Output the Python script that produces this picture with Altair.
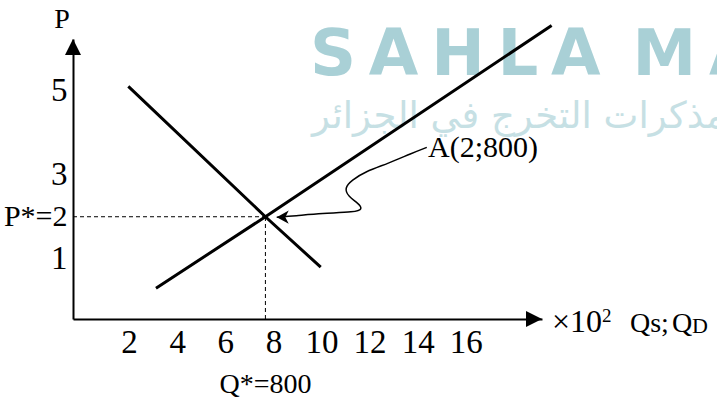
import altair as alt
import pandas as pd

# Axis ranges (quantity in hundreds of units, price in currency units)
Q_RANGE = [0, 19.5]
P_RANGE = [-0.433, 6.229]

Q_TICKS = [2, 4, 6, 8, 10, 12, 14, 16]
P_TICKS = [1, 2, 3, 5]

# Demand and supply schedules (quantity x10^2, price)
demand_q = [2.3, 8, 10.3]
demand_p = [5.1, 2, 0.8]
supply_q = [3.45, 8, 19.9]
supply_p = [0.3, 2, 6.55]

# Equilibrium point A
EQ_Q = 8
EQ_P = 2
EQ_LABEL = "A(2;800)"
Q_STAR_LABEL = "Q*=800"
P_STAR_LABEL = "P*=2"

# Hand-drawn leader from the label down to point A
leader_q = [14.71, 14.08, 13.11, 12.14, 11.59, 11.28, 11.45, 11.86, 12.05, 11.73, 10.34, 9.23, 8.47]
leader_p = [3.65, 3.51, 3.27, 3.07, 2.87, 2.68, 2.48, 2.32, 2.18, 2.11, 2.08, 2.02, 1.99]
LABEL_Q = 14.76
LABEL_P = 3.42

SERIF = "Liberation Serif"

xs = alt.Scale(domain=Q_RANGE, nice=False, zero=False)
ys = alt.Scale(domain=P_RANGE, nice=False, zero=False)

XAXIS = alt.Axis(
    values=Q_TICKS, title=None, grid=False, ticks=False, tickSize=0,
    domainColor="black", domainWidth=2, labelFont=SERIF, labelFontSize=33,
    labelColor="black", labelPadding=7, labelOffset=8, labelFlush=False,
    labelOverlap=False, labelBound=False,
)
YAXIS = alt.Axis(
    values=P_TICKS, title=None, grid=False, ticks=False, tickSize=0,
    domainColor="black", domainWidth=2, labelFont=SERIF,
    labelFontSize={"condition": {"test": f"datum.value == {EQ_P}", "value": 30}, "value": 33},
    labelColor="black", labelPadding=6, labelFlush=False, labelOverlap=False,
    labelBound=False,
    labelExpr=f"datum.value == {EQ_P} ? '{P_STAR_LABEL}' : datum.label",
)


def qx(field):
    return alt.X(field, type="quantitative", scale=xs, axis=XAXIS)


def py(field):
    return alt.Y(field, type="quantitative", scale=ys, axis=YAXIS)


curves = pd.DataFrame({
    "q": demand_q + supply_q,
    "p": demand_p + supply_p,
    "curve": ["D"] * len(demand_q) + ["S"] * len(supply_q),
})
eq = pd.DataFrame({"q": [EQ_Q], "p": [EQ_P], "q0": [Q_RANGE[0]], "p0": [P_RANGE[0]]})
leader = pd.DataFrame({"q": leader_q, "p": leader_p, "i": range(len(leader_q))})
tip = pd.DataFrame({"q": [leader_q[-1]], "p": [leader_p[-1]]})
label = pd.DataFrame({"q": [LABEL_Q], "p": [LABEL_P], "t": [EQ_LABEL]})
ends = pd.DataFrame({"q": [Q_RANGE[0], Q_RANGE[1]], "p": [P_RANGE[1], P_RANGE[0]],
                     "dir": ["up", "right"]})

# Site watermark behind the diagram
HS = "\u200a\u200a"
wm_latin = alt.Chart(pd.DataFrame({"t": [HS.join("SAHLA") + "\u2002" + HS.join("MA")]})).mark_text(
    font="DejaVu Sans", fontWeight="bold", fontSize=64, color="#a9d0d6",
    align="left", baseline="alphabetic",
).encode(x=alt.value(237), y=alt.value(36), text="t:N")
wm_arabic = alt.Chart(pd.DataFrame({"t": ["مذكرات التخرج في الجزائر"]})).mark_text(
    font="DejaVu Sans", fontSize=37, color="#c6e0e4",
    align="left", baseline="alphabetic",
).encode(x=alt.value(239), y=alt.value(89), text="t:N")

h_dash = alt.Chart(eq).mark_rule(color="black", strokeWidth=1, strokeDash=[4, 3]).encode(
    x=qx("q0"), x2="q", y=py("p"))
v_dash = alt.Chart(eq).mark_rule(color="black", strokeWidth=1, strokeDash=[4, 3]).encode(
    x=qx("q"), y=py("p0"), y2="p")

lines = alt.Chart(curves).mark_line(color="black", strokeWidth=3).encode(
    x=qx("q"), y=py("p"), detail="curve:N")

leader_line = alt.Chart(leader).mark_line(
    color="black", strokeWidth=1.5, interpolate="basis").encode(
    x=qx("q"), y=py("p"), order="i:Q")
leader_head = alt.Chart(tip).mark_point(
    shape="M0,0 L1,-0.55 L0.72,0 L1,0.55 Z", size=576, filled=True,
    color="black", opacity=1, strokeWidth=0).encode(x=qx("q"), y=py("p"))

arrow_up = alt.Chart(ends[ends.dir == "up"]).mark_point(
    shape="M0,0 L0.5,1 L-0.5,1 Z", size=1024, filled=True,
    color="black", opacity=1, strokeWidth=0).encode(x=qx("q"), y=py("p"))
arrow_right = alt.Chart(ends[ends.dir == "right"]).mark_point(
    shape="M0,0 L-1,-0.5 L-1,0.5 Z", size=1024, filled=True,
    color="black", opacity=1, strokeWidth=0).encode(x=qx("q"), y=py("p"))

a_label = alt.Chart(label).mark_text(
    font=SERIF, fontSize=30, color="black", align="left", baseline="alphabetic").encode(
    x=qx("q"), y=py("p"), text="t:N")

q_star = alt.Chart(pd.DataFrame({"q": [EQ_Q], "t": [Q_STAR_LABEL]})).mark_text(
    font=SERIF, fontSize=28, color="black", align="center", baseline="alphabetic").encode(
    x=qx("q"), y=alt.value(354), text="t:N")

p_title = alt.Chart(pd.DataFrame({"t": ["P"]})).mark_text(
    font=SERIF, fontSize=28, color="black", align="center", baseline="alphabetic").encode(
    x=alt.value(-11), y=alt.value(-11), text="t:N")


def side_text(t, x, y, size):
    return alt.Chart(pd.DataFrame({"t": [t]})).mark_text(
        font=SERIF, fontSize=size, color="black", align="left", baseline="alphabetic"
    ).encode(x=alt.value(x), y=alt.value(y), text="t:N")


x_title = (
    side_text("\u00d710", 479, 293, 32)
    + side_text("2", 529, 283, 19)
    + side_text("Qs;", 557, 293, 28)
    + side_text("Q", 599, 293, 28)
    + side_text("D", 619, 294, 22)
)

chart = alt.layer(
    wm_latin, wm_arabic, h_dash, v_dash, lines, leader_line, leader_head,
    arrow_up, arrow_right, a_label, q_star, p_title, x_title,
).properties(
    width=469, height=280,
    padding={"left": 73, "top": 39, "right": 175, "bottom": 80},
    autosize=alt.AutoSizeParams(type="none"),
    background="white",
).configure_view(stroke=None)

chart.save("out.html", embed_options={"renderer": "svg", "actions": False})
